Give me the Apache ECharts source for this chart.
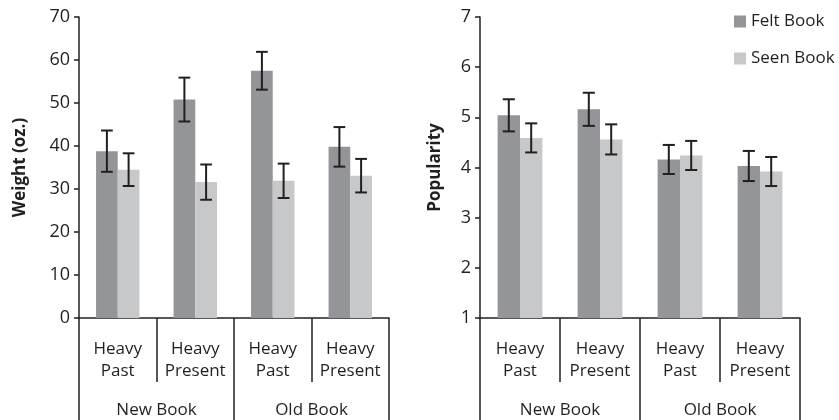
<!DOCTYPE html>
<html><head><meta charset="utf-8">
<script src="https://cdn.jsdelivr.net/npm/echarts@6/dist/echarts.min.js"></script>
<style>html,body{margin:0;padding:0;background:#fff}#c{width:839px;height:420px}</style>
</head><body><div id="c"></div>
<script>
var categories = ['Heavy\nPast', 'Heavy\nPresent', 'Heavy\nPast', 'Heavy\nPresent'];
var groups = ['New Book', 'Old Book'];
var seriesNames = ['Felt Book', 'Seen Book'];
var weightFelt = [38.8, 50.8, 57.5, 39.8];
var weightFeltErr = [4.8, 5.1, 4.4, 4.6];
var weightSeen = [34.5, 31.6, 31.9, 33.1];
var weightSeenErr = [3.8, 4.1, 4.0, 3.9];
var popFelt = [5.04, 5.16, 4.16, 4.03];
var popFeltErr = [0.32, 0.33, 0.29, 0.30];
var popSeen = [4.59, 4.56, 4.24, 3.92];
var popSeenErr = [0.29, 0.30, 0.29, 0.29];

var TXT = '#231f20';
var DARK = '#939598';
var LIGHT = '#c7c8ca';
var FONT = 'Open Sans';
var BARW = 0.28;

function errSeries(name, gridIdx, vals, errs, side) {
  var data = vals.map(function (v, i) { return [i, v - errs[i], v + errs[i]]; });
  return {
    type: 'custom', name: name + ' err', xAxisIndex: gridIdx * 2, yAxisIndex: gridIdx,
    silent: true, z: 10, data: data,
    renderItem: function (params, api) {
      var cw = api.size([1, 0])[0];
      var bw = cw * BARW;
      var lo = api.coord([api.value(0), api.value(1)]);
      var hi = api.coord([api.value(0), api.value(2)]);
      var x = lo[0] + side * bw / 2;
      var cap = bw * 0.27;
      var st = { stroke: TXT, lineWidth: 2 };
      return { type: 'group', children: [
        { type: 'line', shape: { x1: x, y1: lo[1], x2: x, y2: hi[1] }, style: st },
        { type: 'line', shape: { x1: x - cap, y1: lo[1], x2: x + cap, y2: lo[1] }, style: st },
        { type: 'line', shape: { x1: x - cap, y1: hi[1], x2: x + cap, y2: hi[1] }, style: st }
      ]};
    }
  };
}

function xAxes(gridIdx) {
  return [{
    type: 'category', gridIndex: gridIdx, data: categories, position: 'bottom',
    axisLine: { lineStyle: { color: TXT, width: 1.5 } },
    axisTick: { show: true, length: 64, interval: 0, lineStyle: { color: TXT, width: 1.5 } },
    axisLabel: { color: TXT, fontFamily: FONT, fontSize: 17, lineHeight: 22, margin: 20, interval: 0 }
  }, {
    type: 'category', gridIndex: gridIdx, data: groups, position: 'bottom',
    axisLine: { show: false },
    axisTick: { show: true, length: 102, interval: 0, lineStyle: { color: TXT, width: 1.5 } },
    axisLabel: { color: TXT, fontFamily: FONT, fontSize: 17, margin: 84, interval: 0 }
  }];
}

function yAxis(gridIdx, name, min, max, interval) {
  return {
    type: 'value', gridIndex: gridIdx, min: min, max: max, interval: interval,
    name: name, nameLocation: 'middle', nameGap: gridIdx === 0 ? 50 : 36,
    nameTextStyle: { color: TXT, fontFamily: FONT, fontSize: 17, fontWeight: 'bold' },
    axisLine: { show: true, lineStyle: { color: TXT, width: 1.5 } },
    axisTick: { show: true, length: 5, lineStyle: { color: TXT, width: 1.5 } },
    axisLabel: { color: TXT, fontFamily: FONT, fontSize: 18, margin: 9 },
    splitLine: { show: false }
  };
}

function bar(name, gridIdx, vals, color) {
  return {
    type: 'bar', name: name, xAxisIndex: gridIdx * 2, yAxisIndex: gridIdx,
    data: vals, barWidth: (BARW * 100) + '%', barGap: '0%',
    itemStyle: { color: color }
  };
}

var chart = echarts.init(document.getElementById('c'), null, { renderer: 'canvas' });
chart.setOption({
  animation: false,
  textStyle: { fontFamily: FONT },
  grid: [
    { left: 79, right: 450, top: 17, bottom: 102 },
    { left: 480, right: 39, top: 17, bottom: 102 }
  ],
  legend: {
    data: seriesNames, orient: 'vertical', left: 734, top: 13, padding: 0,
    itemWidth: 12, itemHeight: 12, itemGap: 20, icon: 'rect',
    textStyle: { color: TXT, fontFamily: FONT, fontSize: 17 }
  },
  xAxis: xAxes(0).concat(xAxes(1)),
  yAxis: [yAxis(0, 'Weight (oz.)', 0, 70, 10), yAxis(1, 'Popularity', 1, 7, 1)],
  series: [
    bar(seriesNames[0], 0, weightFelt, DARK),
    bar(seriesNames[1], 0, weightSeen, LIGHT),
    bar(seriesNames[0], 1, popFelt, DARK),
    bar(seriesNames[1], 1, popSeen, LIGHT),
    errSeries('wf', 0, weightFelt, weightFeltErr, -1),
    errSeries('ws', 0, weightSeen, weightSeenErr, 1),
    errSeries('pf', 1, popFelt, popFeltErr, -1),
    errSeries('ps', 1, popSeen, popSeenErr, 1)
  ]
});
</script></body></html>
